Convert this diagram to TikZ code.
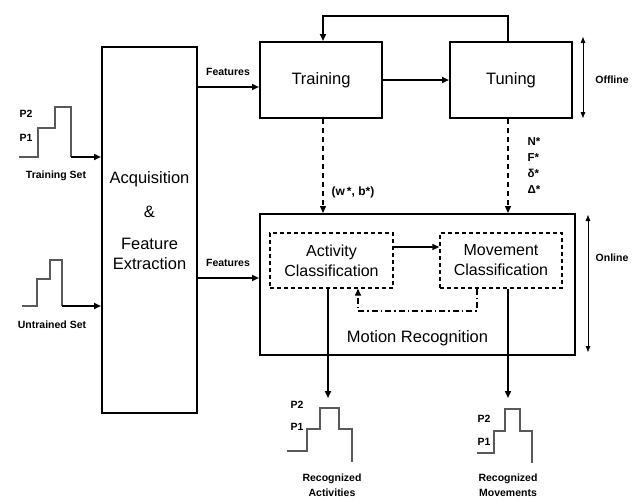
\documentclass[tikz,border=0pt]{standalone}
\usepackage{fontspec}
\setmainfont{Liberation Sans}
\usetikzlibrary{arrows.meta}
\tikzset{
  box/.style={draw, line width=2pt, inner sep=0pt},
  dbox/.style={draw, line width=1.4pt, dash pattern=on 4pt off 3pt, inner sep=0pt, align=center, font=\fontsize{16}{20}\selectfont},
  arr/.style={line width=1.8pt, -{Triangle[length=7pt,width=6pt]}},
  thinarr/.style={line width=1pt, {Triangle[length=6pt,width=4.5pt]}-{Triangle[length=6pt,width=4.5pt]}},
  sig/.style={line width=1.6pt, draw=black!65},
  big/.style={font=\fontsize{16.5}{20}\selectfont},
  small/.style={font=\fontsize{10.5}{13}\selectfont\bfseries},
}
\begin{document}
\begin{tikzpicture}[x=1pt,y=-1pt]
\useasboundingbox (0,0) rectangle (635,499);
% main boxes
\node[box, minimum width=95pt, minimum height=366pt] (acq) at (149.5,230) {};
\node[big, align=center] (acqtxt) at (149.5,221) {Acquisition\\[14pt]\&\\[12pt]Feature\\Extraction};
\node[box, big, minimum width=122pt, minimum height=76pt] (train) at (321,80) {Training};
\node[box, big, minimum width=122pt, minimum height=76pt] (tune) at (511,80) {Tuning};
\node[box, minimum width=315pt, minimum height=141pt] (mr) at (417.5,284.5) {};
\node[big] (mrtxt) at (417.5,338) {Motion Recognition};
\node[dbox, minimum width=123pt, minimum height=55pt] (act) at (331.5,260.5) {Activity\\Classification};
\node[dbox, minimum width=122pt, minimum height=55pt] (mov) at (501,260.5) {Movement\\Classification};

% coordinates
\coordinate (L) at (323,16);
\coordinate (R) at (508,16);
\coordinate (y247) at (0,247);
\coordinate (fb1) at (477,311);
\coordinate (fb2) at (358,311);
\coordinate (oa) at (328,398);
\coordinate (om) at (508,398);
\coordinate (f1) at (0,87);
\coordinate (f2) at (0,278);

% connectors
\draw[arr] (train.east) -- (tune.west);
\draw[arr] (tune.north -| R) -- (R) -- (L) -- (train.north -| L);
\draw[arr, dashed, line width=1.4pt, dash pattern=on 5pt off 4pt] (train.south -| L) -- (mr.north -| L);
\draw[arr, dashed, line width=1.4pt, dash pattern=on 5pt off 4pt] (tune.south -| R) -- (mr.north -| R);
\draw[arr] (act.east |- y247) -- (mov.west |- y247);
\draw[arr, line width=1.4pt, dash pattern=on 6pt off 3pt on 1.5pt off 3pt] (mov.south -| fb1) -- (fb1) -- (fb2) -- (act.south -| fb2);
\draw[arr] (act.south -| oa) -- (oa);
\draw[arr] (mov.south -| om) -- (om);
\draw[arr] (acq.east |- f1) -- (train.west |- f1);
\draw[arr] (acq.east |- f2) -- (mr.west |- f2);
\node[small] (feat1) at (228,72) {Features};
\node[small] (feat2) at (228,263) {Features};

% labels
\node[small, font=\fontsize{12}{14}\selectfont\bfseries] (wb) at (353,192) {(w\,*, b*)};
\node[small, align=left, font=\fontsize{11.5}{16}\selectfont\bfseries] (params) at (534,166) {N*\\F*\\δ*\\Δ*};
\coordinate (off1) at (583,37); \coordinate (off2) at (583,118);
\draw[thinarr] (off1) -- (off2);
\node[small] (offline) at (612,80) {Offline};
\coordinate (on1) at (588,215); \coordinate (on2) at (588,352);
\draw[thinarr] (on1) -- (on2);
\node[small] (online) at (612,258) {Online};

% training set signal
\draw[sig] (19,157) -- (38,157) -- (38,128) -- (55,128) -- (55,107) -- (71,107) -- (71,157);
\coordinate (ts) at (71,157);
\draw[arr] (ts) -- (acq.west |- ts);
\node[small] (tp2) at (26,114) {P2};
\node[small] (tp1) at (26,138) {P1};
\node[small] (tslab) at (56,176) {Training Set};

% untrained set signal
\draw[sig] (22,306) -- (37,306) -- (37,279) -- (50,279) -- (50,260) -- (62,260) -- (62,306);
\coordinate (us) at (62,306);
\draw[arr] (us) -- (acq.west |- us);
\node[small] (uslab) at (52,325) {Untrained Set};

% recognized activities
\draw[sig] (287,451) -- (307,451) -- (307,429) -- (320,429) -- (320,408) -- (339,408) -- (339,429) -- (352,429) -- (352,462);
\node[small] (ap2) at (297,405) {P2};
\node[small] (ap1) at (297,427) {P1};
\node[small, align=center, font=\fontsize{10.5}{15}\selectfont\bfseries] (alab) at (332,485) {Recognized\\Activities};

% recognized movements
\draw[sig] (477,453) -- (494,453) -- (494,431) -- (505,431) -- (505,409) -- (520,409) -- (520,431) -- (532,431) -- (532,463);
\node[small] (mp2) at (484,419) {P2};
\node[small] (mp1) at (484,442) {P1};
\node[small, align=center, font=\fontsize{10.5}{15}\selectfont\bfseries] (mlab) at (508,485) {Recognized\\Movements};
\end{tikzpicture}
\end{document}
